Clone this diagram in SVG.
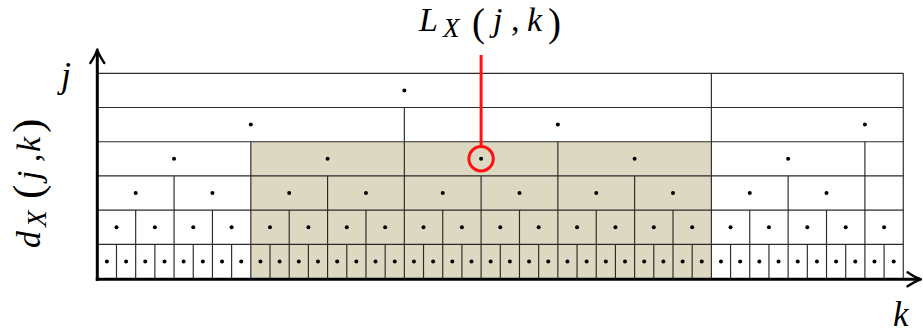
<svg xmlns="http://www.w3.org/2000/svg" width="923" height="334" viewBox="0 0 923 334">
<style>
.bg{fill:#ffffff}
.shade{fill:#dcd8c2}
.grid{stroke:#2a2a2a;stroke-width:1.15;fill:none}
.dot{fill:#000}
.axis{stroke:#000;stroke-width:3;fill:none}
.head{stroke:#000;stroke-width:2.4;fill:none;stroke-linecap:round;stroke-linejoin:round}
.red{stroke:#ff1010;stroke-width:3;fill:none}
.t{font-family:"Liberation Serif","Times New Roman",serif;font-size:34px;fill:#000}
.i{font-style:italic}
.sub{font-style:italic;font-size:27px}
.par{font-size:43px}
.part{font-size:39px}
</style>
<rect class="bg" x="0" y="0" width="923" height="334"/>
<g id="shaded-region">
<rect class="shade" x="250.82" y="141.7" width="460.56" height="136.8"/>
</g>
<g id="grid">
<path class="grid" d="M97.3 73.3H903.28M97.3 107.5H903.28M97.3 141.7H903.28M97.3 175.9H903.28M97.3 210.1H903.28M97.3 244.3H903.28"/>
<path class="grid" d="M711.38 73.3V278.5M903.28 73.3V278.5M404.34 107.5V278.5M250.82 141.7V278.5M557.86 141.7V278.5M864.9 141.7V278.5M174.06 175.9V278.5M327.58 175.9V278.5M481.1 175.9V278.5M634.62 175.9V278.5M788.14 175.9V278.5M135.68 210.1V278.5M212.44 210.1V278.5M289.2 210.1V278.5M365.96 210.1V278.5M442.72 210.1V278.5M519.48 210.1V278.5M596.24 210.1V278.5M673 210.1V278.5M749.76 210.1V278.5M826.52 210.1V278.5M116.49 244.3V278.5M154.87 244.3V278.5M193.25 244.3V278.5M231.63 244.3V278.5M270.01 244.3V278.5M308.39 244.3V278.5M346.77 244.3V278.5M385.15 244.3V278.5M423.53 244.3V278.5M461.91 244.3V278.5M500.29 244.3V278.5M538.67 244.3V278.5M577.05 244.3V278.5M615.43 244.3V278.5M653.81 244.3V278.5M692.19 244.3V278.5M730.57 244.3V278.5M768.95 244.3V278.5M807.33 244.3V278.5M845.71 244.3V278.5M884.09 244.3V278.5"/>
</g>
<g id="dots">
<circle class="dot" cx="404.34" cy="90.4" r="2"/>
<circle class="dot" cx="250.82" cy="124.6" r="2"/>
<circle class="dot" cx="557.86" cy="124.6" r="2"/>
<circle class="dot" cx="864.9" cy="124.6" r="2"/>
<circle class="dot" cx="174.06" cy="158.8" r="2"/>
<circle class="dot" cx="327.58" cy="158.8" r="2"/>
<circle class="dot" cx="481.1" cy="158.8" r="2"/>
<circle class="dot" cx="634.62" cy="158.8" r="2"/>
<circle class="dot" cx="788.14" cy="158.8" r="2"/>
<circle class="dot" cx="135.68" cy="193" r="2"/>
<circle class="dot" cx="212.44" cy="193" r="2"/>
<circle class="dot" cx="289.2" cy="193" r="2"/>
<circle class="dot" cx="365.96" cy="193" r="2"/>
<circle class="dot" cx="442.72" cy="193" r="2"/>
<circle class="dot" cx="519.48" cy="193" r="2"/>
<circle class="dot" cx="596.24" cy="193" r="2"/>
<circle class="dot" cx="673" cy="193" r="2"/>
<circle class="dot" cx="749.76" cy="193" r="2"/>
<circle class="dot" cx="826.52" cy="193" r="2"/>
<circle class="dot" cx="116.49" cy="227.2" r="2"/>
<circle class="dot" cx="154.87" cy="227.2" r="2"/>
<circle class="dot" cx="193.25" cy="227.2" r="2"/>
<circle class="dot" cx="231.63" cy="227.2" r="2"/>
<circle class="dot" cx="270.01" cy="227.2" r="2"/>
<circle class="dot" cx="308.39" cy="227.2" r="2"/>
<circle class="dot" cx="346.77" cy="227.2" r="2"/>
<circle class="dot" cx="385.15" cy="227.2" r="2"/>
<circle class="dot" cx="423.53" cy="227.2" r="2"/>
<circle class="dot" cx="461.91" cy="227.2" r="2"/>
<circle class="dot" cx="500.29" cy="227.2" r="2"/>
<circle class="dot" cx="538.67" cy="227.2" r="2"/>
<circle class="dot" cx="577.05" cy="227.2" r="2"/>
<circle class="dot" cx="615.43" cy="227.2" r="2"/>
<circle class="dot" cx="653.81" cy="227.2" r="2"/>
<circle class="dot" cx="692.19" cy="227.2" r="2"/>
<circle class="dot" cx="730.57" cy="227.2" r="2"/>
<circle class="dot" cx="768.95" cy="227.2" r="2"/>
<circle class="dot" cx="807.33" cy="227.2" r="2"/>
<circle class="dot" cx="845.71" cy="227.2" r="2"/>
<circle class="dot" cx="884.09" cy="227.2" r="2"/>
<circle class="dot" cx="106.9" cy="261.4" r="2"/>
<circle class="dot" cx="126.08" cy="261.4" r="2"/>
<circle class="dot" cx="145.27" cy="261.4" r="2"/>
<circle class="dot" cx="164.46" cy="261.4" r="2"/>
<circle class="dot" cx="183.65" cy="261.4" r="2"/>
<circle class="dot" cx="202.84" cy="261.4" r="2"/>
<circle class="dot" cx="222.03" cy="261.4" r="2"/>
<circle class="dot" cx="241.22" cy="261.4" r="2"/>
<circle class="dot" cx="260.41" cy="261.4" r="2"/>
<circle class="dot" cx="279.6" cy="261.4" r="2"/>
<circle class="dot" cx="298.8" cy="261.4" r="2"/>
<circle class="dot" cx="317.98" cy="261.4" r="2"/>
<circle class="dot" cx="337.17" cy="261.4" r="2"/>
<circle class="dot" cx="356.36" cy="261.4" r="2"/>
<circle class="dot" cx="375.55" cy="261.4" r="2"/>
<circle class="dot" cx="394.74" cy="261.4" r="2"/>
<circle class="dot" cx="413.93" cy="261.4" r="2"/>
<circle class="dot" cx="433.12" cy="261.4" r="2"/>
<circle class="dot" cx="452.31" cy="261.4" r="2"/>
<circle class="dot" cx="471.5" cy="261.4" r="2"/>
<circle class="dot" cx="490.69" cy="261.4" r="2"/>
<circle class="dot" cx="509.88" cy="261.4" r="2"/>
<circle class="dot" cx="529.07" cy="261.4" r="2"/>
<circle class="dot" cx="548.26" cy="261.4" r="2"/>
<circle class="dot" cx="567.45" cy="261.4" r="2"/>
<circle class="dot" cx="586.64" cy="261.4" r="2"/>
<circle class="dot" cx="605.83" cy="261.4" r="2"/>
<circle class="dot" cx="625.02" cy="261.4" r="2"/>
<circle class="dot" cx="644.21" cy="261.4" r="2"/>
<circle class="dot" cx="663.4" cy="261.4" r="2"/>
<circle class="dot" cx="682.6" cy="261.4" r="2"/>
<circle class="dot" cx="701.78" cy="261.4" r="2"/>
<circle class="dot" cx="720.97" cy="261.4" r="2"/>
<circle class="dot" cx="740.16" cy="261.4" r="2"/>
<circle class="dot" cx="759.35" cy="261.4" r="2"/>
<circle class="dot" cx="778.54" cy="261.4" r="2"/>
<circle class="dot" cx="797.73" cy="261.4" r="2"/>
<circle class="dot" cx="816.92" cy="261.4" r="2"/>
<circle class="dot" cx="836.11" cy="261.4" r="2"/>
<circle class="dot" cx="855.3" cy="261.4" r="2"/>
<circle class="dot" cx="874.49" cy="261.4" r="2"/>
<circle class="dot" cx="893.68" cy="261.4" r="2"/>
</g>
<g id="axes">
<path class="axis" d="M97.3 280.8V50.5"/>
<path class="axis" d="M95.8 279.3H920"/>
<path class="head" d="M90.3 63C93.3 58.5 96 54 97.3 49.5C98.6 54 101.3 58.5 104.3 63"/>
<path class="head" d="M907.5 272.3C912 275.3 916.5 278 921 279.3C916.5 280.6 912 283.3 907.5 286.3"/>
</g>
<g id="highlight">
<path class="red" d="M481.1 55V146.6"/>
<circle class="red" cx="481.1" cy="158.8" r="12.2"/>
</g>
<g id="labels">
<text class="t" y="31"><tspan class="i" x="419">L</tspan><tspan class="sub" x="443" y="37">X</tspan><tspan class="part" x="472" y="35.5">(</tspan><tspan class="i" x="493" y="31">j</tspan><tspan x="511">,</tspan><tspan class="i" x="527">k</tspan><tspan class="part" x="548" y="35.5">)</tspan></text>
<text class="t" transform="translate(40,248) rotate(-90)" y="0"><tspan class="i" x="0">d</tspan><tspan class="sub" x="21" y="6">X</tspan><tspan class="par" x="49" y="2">(</tspan><tspan class="i" x="68" y="0">j</tspan><tspan x="86">,</tspan><tspan class="i" x="96">k</tspan><tspan class="par" x="115" y="2">)</tspan></text>
<text class="t i" x="61" y="86.5" style="font-size:36px">j</text>
<text class="t i" x="893" y="326" style="font-size:35px">k</text>
</g>
</svg>
